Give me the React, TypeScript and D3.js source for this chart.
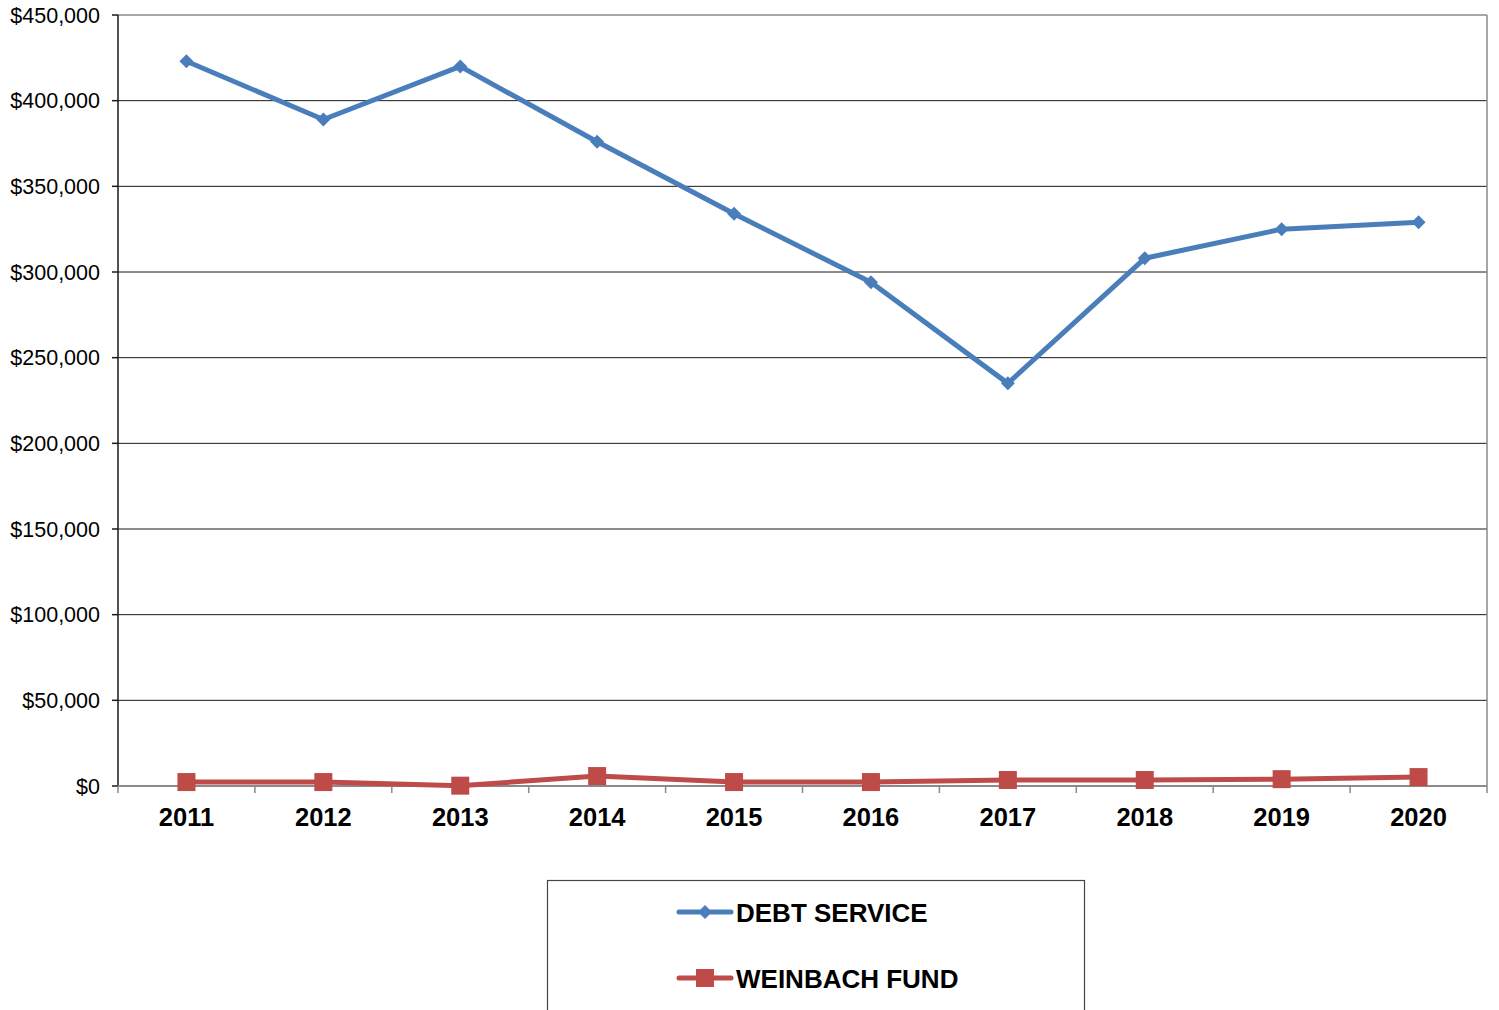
import React from "react";
import * as d3 from "d3";

const years = ["2011", "2012", "2013", "2014", "2015", "2016", "2017", "2018", "2019", "2020"];
const debtService = [423000, 389000, 420000, 376000, 334000, 294000, 235000, 308000, 325000, 329000];
const weinbachFund = [2300, 2300, 200, 5800, 2300, 2300, 3500, 3500, 4000, 5200];
const yTicks = [0, 50000, 100000, 150000, 200000, 250000, 300000, 350000, 400000, 450000];

const W = 1499, H = 1010;
const L = 118, R = 1487, T = 15, B = 786;
const BLUE = "#4a7ebb";
const RED = "#be4b48";

export default function App() {
  const x = d3.scaleBand().domain(years).range([L, R]);
  const y = d3.scaleLinear().domain([0, 450000]).range([B, T]);
  const cx = (d: string) => (x(d) as number) + x.bandwidth() / 2;
  const line = d3.line<number>().x((_, i) => cx(years[i])).y((v) => y(v));
  const fmt = (v: number) => "$" + d3.format(",")(v);
  const font = "Arial, 'Liberation Sans', sans-serif";

  return (
    <svg width={W} height={H} style={{ position: "absolute", left: 0, top: 0, background: "#fff" }}>
      <rect x={0} y={0} width={W} height={H} fill="#fff" />
      {yTicks.filter((t) => t > 0 && t < 450000).map((t) => (
        <line key={t} x1={L} x2={R} y1={y(t)} y2={y(t)} stroke="#1a1a1a" strokeWidth={1} />
      ))}
      <line x1={L} x2={R} y1={T} y2={T} stroke="#8a8a8a" strokeWidth={1.5} />
      <line x1={R} x2={R} y1={T} y2={B} stroke="#8a8a8a" strokeWidth={1.5} />
      <line x1={L} x2={L} y1={T} y2={B} stroke="#1a1a1a" strokeWidth={1.5} />
      {yTicks.map((t) => (
        <g key={t}>
          <line x1={L - 6} x2={L} y1={y(t)} y2={y(t)} stroke="#1a1a1a" strokeWidth={1.5} />
          <text x={100} y={y(t)} dy="0.35em" textAnchor="end" fontFamily={font} fontSize={21.5} fill="#000">
            {fmt(t)}
          </text>
        </g>
      ))}
      <line x1={L} x2={R} y1={B} y2={B} stroke="#8a8a8a" strokeWidth={2} />
      {years.map((yr) => (
        <line key={"t" + yr} x1={x(yr) as number} x2={x(yr) as number} y1={B} y2={B + 7} stroke="#8a8a8a" strokeWidth={1.5} />
      ))}
      <line x1={R} x2={R} y1={B} y2={B + 7} stroke="#8a8a8a" strokeWidth={1.5} />
      {years.map((yr) => (
        <text key={"l" + yr} x={cx(yr)} y={826} textAnchor="middle" fontFamily={font} fontWeight="bold" fontSize={25.5} fill="#000">
          {yr}
        </text>
      ))}
      <path d={line(debtService) || ""} fill="none" stroke={BLUE} strokeWidth={5} strokeLinejoin="round" />
      {debtService.map((v, i) => (
        <path key={"d" + i} d={`M${cx(years[i])},${y(v) - 7}l7,7l-7,7l-7,-7z`} fill={BLUE} />
      ))}
      <path d={line(weinbachFund) || ""} fill="none" stroke={RED} strokeWidth={5} strokeLinejoin="round" />
      {weinbachFund.map((v, i) => (
        <rect key={"w" + i} x={cx(years[i]) - 9} y={y(v) - 9} width={18} height={18} fill={RED} />
      ))}
      <rect x={547.5} y={880.5} width={537} height={140} fill="#fff" stroke="#444" strokeWidth={1.2} />
      <line x1={679} x2={731} y1={912} y2={912} stroke={BLUE} strokeWidth={5} strokeLinecap="round" />
      <path d={`M705,${912 - 7}l7,7l-7,7l-7,-7z`} fill={BLUE} />
      <text x={736} y={913} dy="0.36em" fontFamily={font} fontWeight="bold" fontSize={26} fill="#000">DEBT SERVICE</text>
      <line x1={679} x2={731} y1={978} y2={978} stroke={RED} strokeWidth={5} strokeLinecap="round" />
      <rect x={696} y={969} width={18} height={18} fill={RED} />
      <text x={736} y={979} dy="0.36em" fontFamily={font} fontWeight="bold" fontSize={26} fill="#000">WEINBACH FUND</text>
    </svg>
  );
}
